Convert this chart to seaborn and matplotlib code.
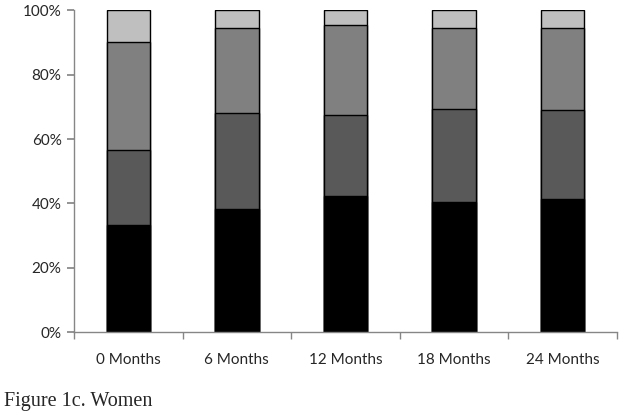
import matplotlib
matplotlib.use("Agg")
import matplotlib.pyplot as plt
import numpy as np
import pandas as pd
import seaborn as sns

# =========================
# Data (percentages)
# =========================
months = ["0 Months", "6 Months", "12 Months", "18 Months", "24 Months"]
seg1 = [33.3, 38.4, 42.4, 40.3, 41.3]   # black
seg2 = [23.2, 29.8, 25.1, 29.1, 27.9]   # dark grey
seg3 = [33.6, 26.5, 27.9, 25.3, 25.5]   # mid grey
seg4 = [9.9, 5.3, 4.6, 5.3, 5.3]        # light grey

colors = ["#000000", "#595959", "#808080", "#bfbfbf"]

sns.set_theme(style="white")
plt.rcParams["font.family"] = ["Lato", "DejaVu Sans"]

df = pd.DataFrame({"month": months, "s1": seg1, "s2": seg2, "s3": seg3, "s4": seg4})
cum = df[["s1", "s2", "s3", "s4"]].cumsum(axis=1)

fig = plt.figure(figsize=(6.24, 4.13), dpi=100)
ax = fig.add_axes([0.1186, 0.196, 0.870, 0.7786])

# draw from the top of the stack down so each lower segment covers the one above
for col, c in zip(["s4", "s3", "s2", "s1"], colors[::-1]):
    sns.barplot(x=df["month"], y=cum[col], color=c, width=0.4,
                edgecolor="black", linewidth=1.0, ax=ax, saturation=1)

ax.set_ylim(0, 100)
ax.set_xlim(-0.5, 4.5)
ax.set_yticks(np.arange(0, 101, 20))
ax.set_yticklabels([f"{v}%" for v in range(0, 101, 20)], fontsize=11)
ax.set_xlabel("")
ax.set_ylabel("")
ax.tick_params(axis="x", length=0, labelsize=11, pad=15)
ax.set_xticks(np.arange(-0.5, 5, 1), minor=True)
ax.tick_params(axis="x", which="minor", length=5, color="#868686", direction="out", bottom=True)
ax.tick_params(axis="y", length=5, color="#868686", direction="out", left=True, pad=4)

for s in ["top", "right"]:
    ax.spines[s].set_visible(False)
for s in ["left", "bottom"]:
    ax.spines[s].set_color("#868686")
    ax.spines[s].set_linewidth(1)

fig.text(0.007, 0.016, "Figure 1c. Women", fontsize=14.5, family=["Liberation Serif", "DejaVu Serif"])

plt.savefig("out.png", dpi=100, facecolor="white")
